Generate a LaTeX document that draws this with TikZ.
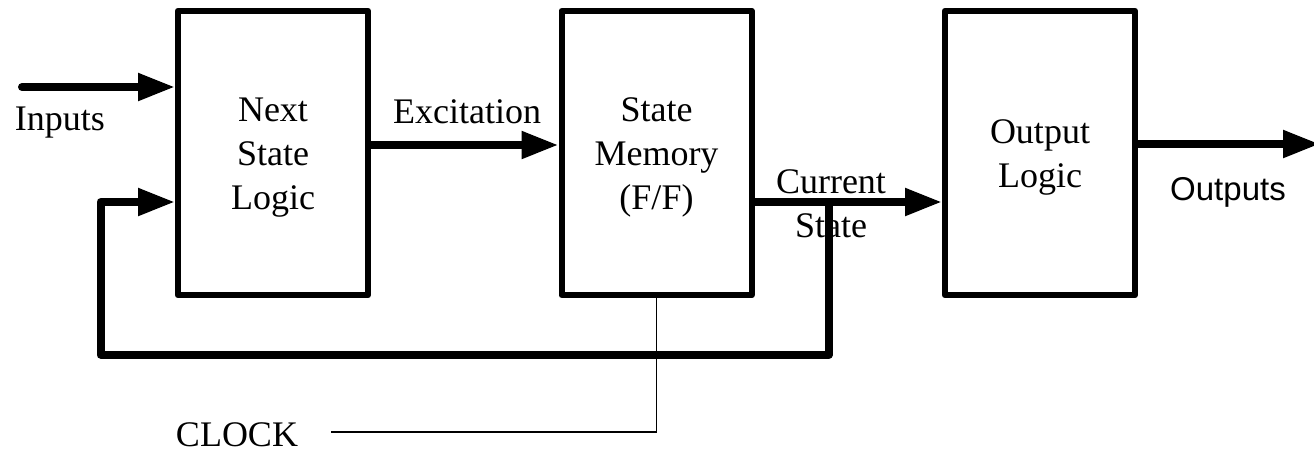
\documentclass[tikz,border=0pt]{standalone}
\usepackage{fontspec}
\setmainfont{Liberation Serif}
\newfontfamily\arialfont{Liberation Sans}
\usetikzlibrary{arrows.meta}
\begin{document}
\begin{tikzpicture}[x=0.5pt,y=-0.5pt,
  every node/.style={font=\fontsize{18pt}{22pt}\selectfont, inner sep=0pt},
  block/.style={draw, line width=3pt, line join=round, minimum width=95pt,
    minimum height=142.25pt},
  blocktext/.style={align=center, yshift=-2.2pt},
  bus/.style={line width=4pt, line join=round, line cap=round},
  busarrow/.style={bus, -{Triangle[length=18.5pt,width=13pt]}},
  clockline/.style={line width=0.65pt},
  lbl/.style={anchor=base}
]
\useasboundingbox (0,0) rectangle (1314,451);

% the three blocks of the machine
\node[block] (nsl) at (273,153) {};
\node[block] (mem) at (656.5,153) {};
\node[block] (out) at (1040,153) {};
\node[blocktext] (tnsl) at (nsl.center) {Next\\State\\Logic};
\node[blocktext] (tmem) at (mem.center) {State\\Memory\\(F/F)};
\node[blocktext] (tout) at (out.center) {Output\\Logic};

% free ends
\coordinate (inp) at (22,87);
\coordinate (outend) at (1320,144);
\coordinate (clk) at (331,432);
\coordinate (tap) at (829,202);
\coordinate (fbcorner) at (100.5,354.5);

% signal labels
\node[lbl] (linputs) at (60,130) {Inputs};
\node[lbl] (lexc) at (467,123) {Excitation};
\node[align=center] (lcur) at (831,203.5) {Current\\State};
\node[lbl, font=\arialfont\fontsize{16.5pt}{20pt}\selectfont] (lout) at (1228,200) {Outputs};
\node[lbl] (lclk) at (237,446) {CLOCK};

% data paths
\draw[busarrow] (inp) -- (inp -| nsl.west);
\draw[busarrow] (nsl.east |- 0,145) -- (mem.west |- 0,145);
\draw[busarrow] (mem.east |- tap) -- (out.west |- tap);
\draw[busarrow] (out.east |- outend) -- (outend);

% feedback of the current state
\draw[busarrow] (tap) |- (fbcorner) -- (fbcorner |- tap) -- (nsl.west |- tap);

% clock input
\draw[clockline] (mem.south) |- (clk);
\end{tikzpicture}
\end{document}
